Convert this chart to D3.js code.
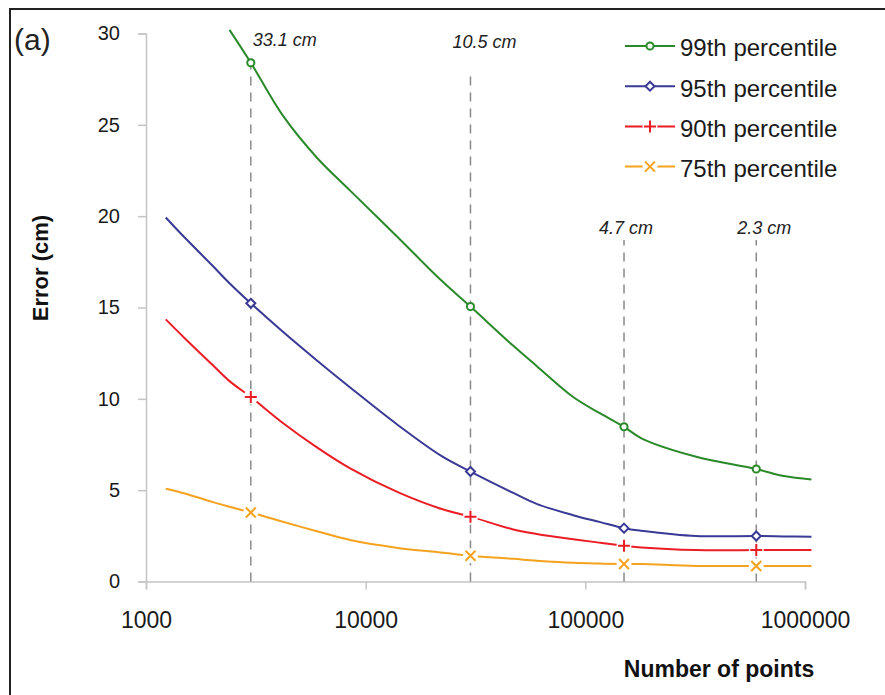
<!DOCTYPE html>
<html>
<head>
<meta charset="utf-8">
<script src="https://cdn.jsdelivr.net/npm/d3@7"></script>
<style>
  body { margin: 0; background: #fff; }
  svg { display: block; font-family: "Liberation Sans", Arial, sans-serif; }
</style>
</head>
<body>
<svg width="885" height="695"></svg>
<script>
// number of points (x) shared by all series
const nPoints = [1230, 1500, 2000, 2400, 3000, 4200, 6000, 8500, 14000, 22000, 30000,
  47000, 60000, 88000, 117000, 150000, 180000, 320000, 600000, 800000, 1070000]

const p99 = [null, null, null, 30.2, 28.4, 25.5, 23.2, 21.4, 18.85, 16.5, 15.05,
  12.9, 11.8, 10.1, 9.2, 8.47, 7.84, 6.83, 6.16, 5.77, 5.59]
const p95 = [19.93, 18.83, 17.31, 16.33, 15.23, 13.67, 12.1, 10.62, 8.57, 6.89, 6.02,
  4.85, 4.25, 3.63, 3.25, 2.92, 2.78, 2.49, 2.49, 2.47, 2.45]
const p90 = [14.35, 13.32, 11.88, 10.97, 10.1, 8.68, 7.34, 6.19, 4.89, 3.98, 3.55,
  2.85, 2.6, 2.31, 2.12, 1.96, 1.86, 1.72, 1.72, 1.72, 1.72]
const p75 = [5.08, 4.82, 4.36, 4.09, 3.78, 3.27, 2.75, 2.27, 1.84, 1.59, 1.41,
  1.24, 1.14, 1.02, 0.98, 0.96, 0.96, 0.85, 0.85, 0.85, 0.85]

const seriesNames = ['99th percentile', '95th percentile', '90th percentile', '75th percentile']
const seriesValues = [p99, p95, p90, p75]
const seriesColors = ['#2a8a2a', '#3a3a96', '#ea1d25', '#f5a21e']
const seriesMarkers = ['circle', 'diamond', 'plus', 'cross']

// marked sample sizes with their annotations
const markerN = [3000, 30000, 150000, 600000]
const noteText = ['33.1 cm', '10.5 cm', '4.7 cm', '2.3 cm']
const noteTop = [28.3, 28.0, 18.7, 18.7]    // top of dashed guide (cm)
const noteY = [29.3, 29.2, 19.05, 19.05]    // label baseline (cm)
const noteDx = [34, 14, 2, 8]

const yTicks = [0, 5, 10, 15, 20, 25, 30]
const xTicks = [1000, 10000, 100000, 1000000]

const svg = d3.select('svg')

const x = d3.scaleLog().domain([1000, 1000000]).range([146, 805])
const y = d3.scaleLinear().domain([0, 30]).range([581.5, 33.5])

// frame (only top and left edges are visible)
svg.append('path')
  .attr('d', 'M10,700V9H890')
  .attr('fill', 'none')
  .attr('stroke', '#222')
  .attr('stroke-width', 2)

svg.append('text')
  .attr('x', 14).attr('y', 50)
  .style('font-size', '30px')
  .attr('fill', '#222')
  .text('(a)')

// axes
const yAxis = d3.axisLeft(y).tickValues(yTicks).tickSize(8).tickPadding(18)
const xAxis = d3.axisBottom(x).tickValues(xTicks).tickSize(8).tickPadding(22)
  .tickFormat(d3.format('d'))

const yAxisG = svg.append('g').attr('transform', `translate(${x(1000)},0)`).call(yAxis)
const xAxisG = svg.append('g').attr('transform', `translate(0,${y(0)})`).call(xAxis)

for (const g of [yAxisG, xAxisG]) {
  g.select('.domain').attr('stroke', '#c4c4c4').attr('stroke-width', 1.5)
  g.selectAll('.tick line').attr('stroke', '#c4c4c4').attr('stroke-width', 1.5)
  g.selectAll('.tick text').attr('fill', '#1a1a1a').attr('font-family', null)
}
yAxisG.selectAll('.tick text').style('font-size', '20px')
xAxisG.selectAll('.tick text').style('font-size', '23px')

svg.append('text')
  .attr('transform', 'translate(48,268) rotate(-90)')
  .attr('text-anchor', 'middle')
  .style('font-size', '22px').style('font-weight', 'bold')
  .attr('fill', '#111')
  .text('Error (cm)')

svg.append('text')
  .attr('x', 719).attr('y', 677)
  .attr('text-anchor', 'middle')
  .style('font-size', '23px').style('font-weight', 'bold')
  .attr('fill', '#111')
  .text('Number of points')

// dashed guides and labels
const notes = markerN.map((n, i) => ({ n, text: noteText[i], top: noteTop[i], ly: noteY[i], dx: noteDx[i] }))

svg.selectAll('.guide')
  .data(notes)
  .enter()
  .append('line')
  .attr('class', 'guide')
  .attr('x1', d => x(d.n)).attr('x2', d => x(d.n))
  .attr('y1', y(0)).attr('y2', d => y(d.top))
  .attr('stroke', '#8a8a8a')
  .attr('stroke-width', 1.5)
  .attr('stroke-dasharray', '9,7')

svg.selectAll('.note')
  .data(notes)
  .enter()
  .append('text')
  .attr('class', 'note')
  .attr('x', d => x(d.n) + d.dx)
  .attr('y', d => y(d.ly))
  .attr('text-anchor', 'middle')
  .style('font-size', '18px').style('font-style', 'italic')
  .attr('fill', '#222')
  .text(d => d.text)

// series lines
const series = seriesNames.map((name, i) => ({
  name,
  color: seriesColors[i],
  marker: seriesMarkers[i],
  points: nPoints.map((n, j) => ({ n, v: seriesValues[i][j] })).filter(d => d.v !== null)
}))

const line = d3.line()
  .x(d => x(d.n))
  .y(d => y(d.v))
  .curve(d3.curveCatmullRom.alpha(0.5))

svg.selectAll('.series')
  .data(series)
  .enter()
  .append('path')
  .attr('class', 'series')
  .attr('d', d => line(d.points))
  .attr('fill', 'none')
  .attr('stroke', d => d.color)
  .attr('stroke-width', 2)

const markerPath = {
  circle: d3.symbol(d3.symbolCircle, 40)(),
  diamond: 'M0,-4.5L4.5,0L0,4.5L-4.5,0Z',
  plus: 'M-6,0H6M0,-6V6',
  cross: 'M-5,-5L5,5M5,-5L-5,5'
}

function drawMarker(g, type, color) {
  if (type === 'plus' || type === 'cross') {
    g.append('circle').attr('r', 7.5).attr('fill', '#fff')
  }
  g.append('path')
    .attr('d', markerPath[type])
    .attr('fill', type === 'circle' || type === 'diamond' ? '#fff' : 'none')
    .attr('stroke', color)
    .attr('stroke-width', 2)
}

series.forEach(s => {
  s.points.filter(d => markerN.includes(d.n)).forEach(d => {
    const g = svg.append('g').attr('transform', `translate(${x(d.n)},${y(d.v)})`)
    drawMarker(g, s.marker, s.color)
  })
})

// legend
const legend = svg.selectAll('.legend')
  .data(series)
  .enter()
  .append('g')
  .attr('class', 'legend')
  .attr('transform', (d, i) => `translate(625,${46 + i * 40.2})`)

legend.append('line')
  .attr('x1', 0).attr('x2', 50)
  .attr('stroke', d => d.color)
  .attr('stroke-width', 2)

legend.each(function(d) {
  const g = d3.select(this).append('g').attr('transform', 'translate(25,0)')
  drawMarker(g, d.marker, d.color)
})

legend.append('text')
  .attr('x', 55).attr('y', 2)
  .attr('dy', '0.35em')
  .style('font-size', '24px')
  .attr('fill', '#1a1a1a')
  .text(d => d.name)
</script>
</body>
</html>
